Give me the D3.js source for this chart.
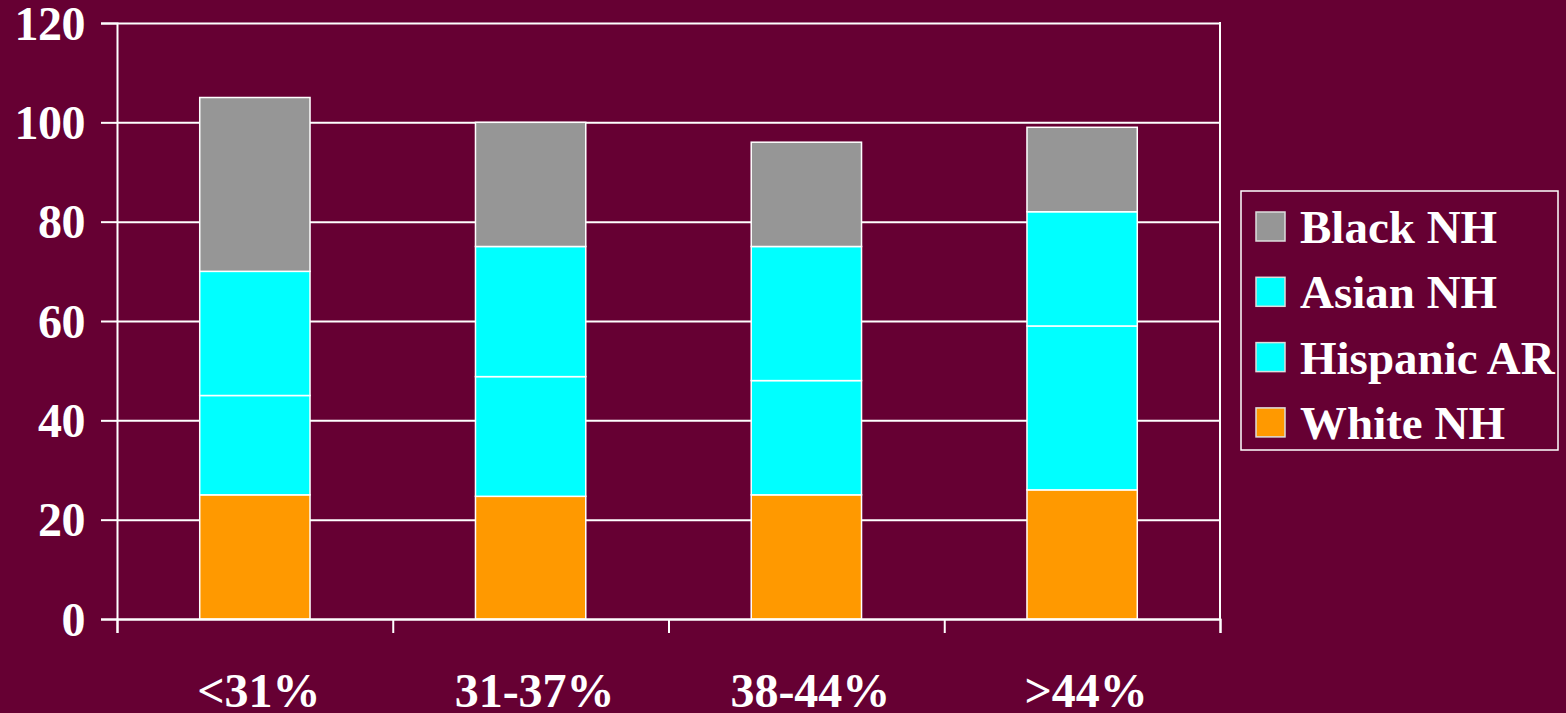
<!DOCTYPE html>
<html>
<head>
<meta charset="utf-8">
<script src="https://cdn.jsdelivr.net/npm/d3@7"></script>
<style>
  html, body { margin: 0; padding: 0; background: #660033; overflow: hidden; }
  svg { display: block; }
  text { font-family: "Liberation Serif", "Times New Roman", serif; font-weight: bold; fill: #ffffff; }
</style>
</head>
<body>
<svg id="chart" width="1566" height="713"></svg>
<script>
// Categories and stacked series (bottom to top)
const categories = ["<31%", "31-37%", "38-44%", ">44%"];
const whiteNH    = [25, 24.7, 25, 26];
const hispanicAR = [20, 24.1, 23, 33];
const asianNH    = [25, 26.2, 27, 23];
const blackNH    = [35, 25, 21, 17];
const yTicks     = [0, 20, 40, 60, 80, 100, 120];

const seriesNames  = ["White NH", "Hispanic AR", "Asian NH", "Black NH"];
const seriesValues = [whiteNH, hispanicAR, asianNH, blackNH];
const seriesColors = ["#FF9900", "#00FFFF", "#00FFFF", "#969696"];

const W = 1566, H = 713;
const plot = { left: 117, right: 1220, top: 23, bottom: 619 };

const svg = d3.select("#chart");
svg.append("rect").attr("width", W).attr("height", H).attr("fill", "#660033");

const x = d3.scaleBand()
  .domain(categories)
  .range([plot.left, plot.right])
  .paddingInner(0.6)
  .paddingOuter(0.3);

const y = d3.scaleLinear().domain([0, 120]).range([plot.bottom, plot.top]);

// Horizontal gridlines
svg.append("g")
  .attr("transform", `translate(${plot.left},0)`)
  .call(d3.axisLeft(y).tickValues(yTicks).tickSize(-(plot.right - plot.left)).tickFormat(""))
  .call(g => g.select(".domain").remove())
  .call(g => g.selectAll("line").attr("stroke", "#ffffff").attr("stroke-width", 2));

// Right border of plot
svg.append("line")
  .attr("x1", plot.right).attr("x2", plot.right)
  .attr("y1", plot.top - 1).attr("y2", plot.bottom)
  .attr("stroke", "#ffffff").attr("stroke-width", 2);

// Stacked bars
const rows = categories.map((c, i) => {
  const r = { cat: c };
  seriesNames.forEach((s, j) => r[s] = seriesValues[j][i]);
  return r;
});
const stacked = d3.stack().keys(seriesNames)(rows);

stacked.forEach((layer, j) => {
  svg.append("g")
    .selectAll("rect")
    .data(layer)
    .join("rect")
    .attr("x", d => x(d.data.cat))
    .attr("width", x.bandwidth())
    .attr("y", d => y(d[1]))
    .attr("height", d => y(d[0]) - y(d[1]))
    .attr("fill", seriesColors[j])
    .attr("stroke", "#ffffff")
    .attr("stroke-width", 1.5);
});

// Y axis
svg.append("g")
  .attr("transform", `translate(${plot.left},0)`)
  .call(d3.axisLeft(y).tickValues(yTicks).tickSize(16).tickPadding(16))
  .call(g => g.select(".domain").attr("stroke", "#ffffff").attr("stroke-width", 2))
  .call(g => g.selectAll("line").attr("stroke", "#ffffff").attr("stroke-width", 2))
  .call(g => g.selectAll("text")
    .attr("fill", "#ffffff")
    .style("font-size", "48px")
    .style("letter-spacing", "-0.5px")
    .attr("dy", "0.34em"));

// X axis: tick marks at category boundaries
const xb = d3.scaleLinear().domain([0, categories.length]).range([plot.left, plot.right]);
svg.append("g")
  .attr("transform", `translate(0,${plot.bottom})`)
  .call(d3.axisBottom(xb).tickValues(d3.range(categories.length + 1)).tickSize(14).tickFormat(""))
  .call(g => g.select(".domain").attr("stroke", "#ffffff").attr("stroke-width", 2))
  .call(g => g.selectAll("line").attr("stroke", "#ffffff").attr("stroke-width", 2));

// Category labels
svg.append("g")
  .selectAll("text")
  .data(categories)
  .join("text")
  .attr("x", d => x(d) + x.bandwidth() / 2 + 4)
  .attr("y", 707)
  .attr("text-anchor", "middle")
  .style("font-size", "48px")
  .text(d => d);

// Legend
const legend = svg.append("g");
legend.append("rect")
  .attr("x", 1241).attr("y", 191)
  .attr("width", 317).attr("height", 259)
  .attr("fill", "none").attr("stroke", "#ffffff").attr("stroke-width", 1.5);

const legendOrder = [3, 2, 1, 0];
legendOrder.forEach((j, k) => {
  const cy = 227 + k * 65.3;
  legend.append("rect")
    .attr("x", 1256).attr("y", cy - 15)
    .attr("width", 29).attr("height", 29)
    .attr("fill", seriesColors[j])
    .attr("stroke", "#dddddd").attr("stroke-width", 1.5);
  legend.append("text")
    .attr("x", 1300).attr("y", cy + 16)
    .style("font-size", "47px")
    .text(seriesNames[j]);
});
</script>
</body>
</html>
